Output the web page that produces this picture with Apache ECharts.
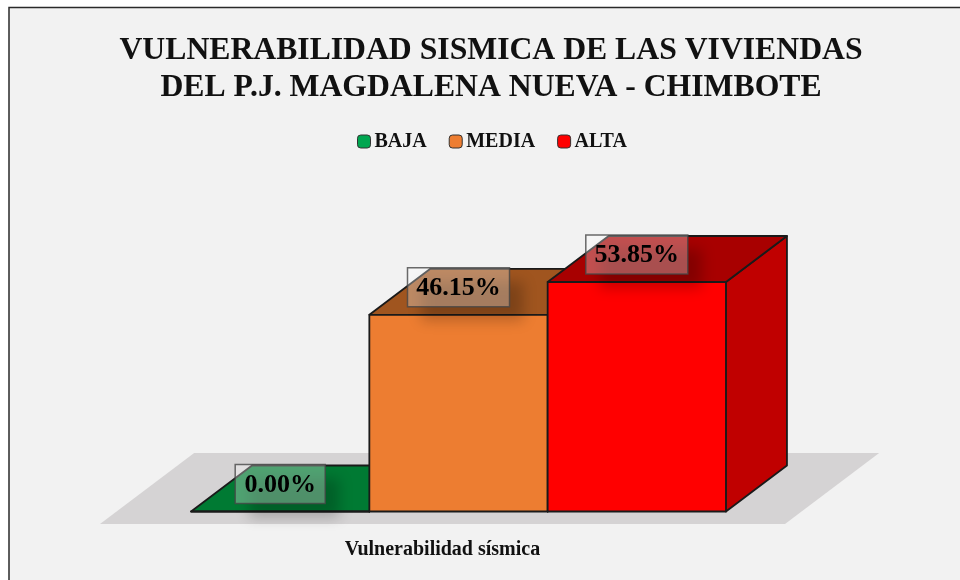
<!DOCTYPE html>
<html>
<head>
<meta charset="utf-8">
<style>html,body{margin:0;padding:0;background:#fff;overflow:hidden}#c{width:960px;height:580px}</style>
<script src="https://cdn.jsdelivr.net/npm/echarts@6/dist/echarts.min.js"></script>
</head>
<body>
<div id="c"></div>
<script>
var titleLines = ['VULNERABILIDAD SISMICA DE LAS VIVIENDAS', 'DEL P.J. MAGDALENA NUEVA - CHIMBOTE'];
var categories = ['Vulnerabilidad sísmica'];
var seriesNames = ['BAJA', 'MEDIA', 'ALTA'];
var seriesValues = [0.00, 46.15, 53.85];
var frontColors = ['#00a650', '#ed7d31', '#ff0000'];
var topColors = ['#007a33', '#a0551f', '#a80000'];
var sideColors = ['#006b2d', '#b85f22', '#c00000'];

var SERIF = '"Liberation Serif","Times New Roman",serif';
var EDGE = '#1a1a1a';
var DEPTH_X = 61, DEPTH_Y = 46;
var BAR_FRAC = 178.3 / 685, SHIFT_FRAC = 16 / 685;

function barRender(i) {
  return function (params, api) {
    var base = api.coord([0, 0]);
    var top = api.coord([0, api.value(1)]);
    var band = api.size([1, 0])[0];
    var w = band * BAR_FRAC;
    var x0 = base[0] + band * SHIFT_FRAC + (i - 1.5) * w;
    var x1 = x0 + w;
    var yb = base[1], yt = top[1];
    var edge = { stroke: EDGE, lineWidth: 1.8, lineJoin: 'round' };
    function poly(pts, fill, z2) {
      return { type: 'polygon', z2: z2, shape: { points: pts }, style: Object.assign({ fill: fill }, edge), silent: true };
    }
    var cx = (x0 + x1) / 2, cy = yt - 27.5;
    var boxW = i === 0 ? 90 : 102, boxH = 39;
    var boxX = cx - boxW / 2, boxY = cy - boxH / 2;
    var far = 3000;
    return {
      type: 'group',
      children: [
        poly([[x1, yb], [x1 + DEPTH_X, yb - DEPTH_Y], [x1 + DEPTH_X, yt - DEPTH_Y], [x1, yt]], sideColors[i], 10 + i),
        poly([[x0, yt], [x1, yt], [x1 + DEPTH_X, yt - DEPTH_Y], [x0 + DEPTH_X, yt - DEPTH_Y]], topColors[i], 10 + i),
        poly([[x0, yb], [x1, yb], [x1, yt], [x0, yt]], frontColors[i], 11 + i),
        { type: 'rect', z2: 50, silent: true,
          shape: { x: boxX - far, y: boxY, width: boxW, height: boxH },
          style: { fill: '#000', shadowColor: 'rgba(0,0,0,0.22)', shadowBlur: 14, shadowOffsetX: far + 14, shadowOffsetY: 14 } },
        { type: 'rect', z2: 51, silent: true,
          shape: { x: boxX, y: boxY, width: boxW, height: boxH },
          style: { fill: 'rgba(255,255,255,0.31)', stroke: 'rgba(70,70,70,0.8)', lineWidth: 1.5 } },
        { type: 'text', z2: 52, silent: true,
          style: { text: api.value(1).toFixed(2) + '%', x: cx, y: cy + 1, fill: '#000',
                   font: 'bold 26px ' + SERIF, textAlign: 'center', textVerticalAlign: 'middle' } }
      ]
    };
  };
}

function floorRender(params, api) {
  var cs = params.coordSys;
  var base = api.coord([0, 0]);
  var l = cs.x, r = cs.x + cs.width;
  var below = 12.5;
  var fy = base[1] + below, by = base[1] - DEPTH_Y - below;
  var ds = (fy - by) * DEPTH_X / DEPTH_Y;
  return { type: 'polygon', z2: 1, silent: true,
    shape: { points: [[l, fy], [r, fy], [r + ds, by], [l + ds, by]] },
    style: { fill: '#d5d3d4' } };
}

var series = [{ type: 'custom', name: 'piso', renderItem: floorRender, data: [[0, 0]], silent: true, clip: false, tooltip: { show: false } }];
seriesNames.forEach(function (n, i) {
  series.push({
    type: 'custom', name: n, renderItem: barRender(i),
    data: [[0, seriesValues[i]]], encode: { x: 0, y: 1 }, clip: false,
    itemStyle: { color: frontColors[i] }
  });
});

var chart = echarts.init(document.getElementById('c'), null, { renderer: 'canvas' });
chart.setOption({
  animation: false,
  backgroundColor: '#ffffff',
  graphic: [{ type: 'rect', z: -10, silent: true, shape: { x: 9, y: 7.5, width: 980, height: 600 },
              style: { fill: '#f2f2f2', stroke: '#2a2a2a', lineWidth: 1.5 } }],
  title: { text: titleLines.join('\n'), left: 486, top: 27, textAlign: 'center',
    textStyle: { fontFamily: SERIF, fontWeight: 'bold', fontSize: 31.7, lineHeight: 37.5, color: '#111111' } },
  legend: { data: seriesNames, left: 352, top: 126.5, icon: 'roundRect', itemWidth: 13, itemHeight: 13, itemGap: 22,
    selectedMode: false,
    itemStyle: { borderColor: '#333', borderWidth: 1 },
    textStyle: { fontFamily: SERIF, fontWeight: 'bold', fontSize: 20, color: '#111111', padding: [3, 0, 0, -1] } },
  grid: { left: 100, width: 685, top: 255.8, height: 255.7 },
  xAxis: { type: 'category', data: categories, axisLine: { show: false }, axisTick: { show: false },
    axisLabel: { fontFamily: SERIF, fontWeight: 'bold', fontSize: 20, color: '#111111', margin: 28 } },
  yAxis: { type: 'value', min: 0, max: 60, show: false },
  series: series
});
</script>
</body>
</html>
